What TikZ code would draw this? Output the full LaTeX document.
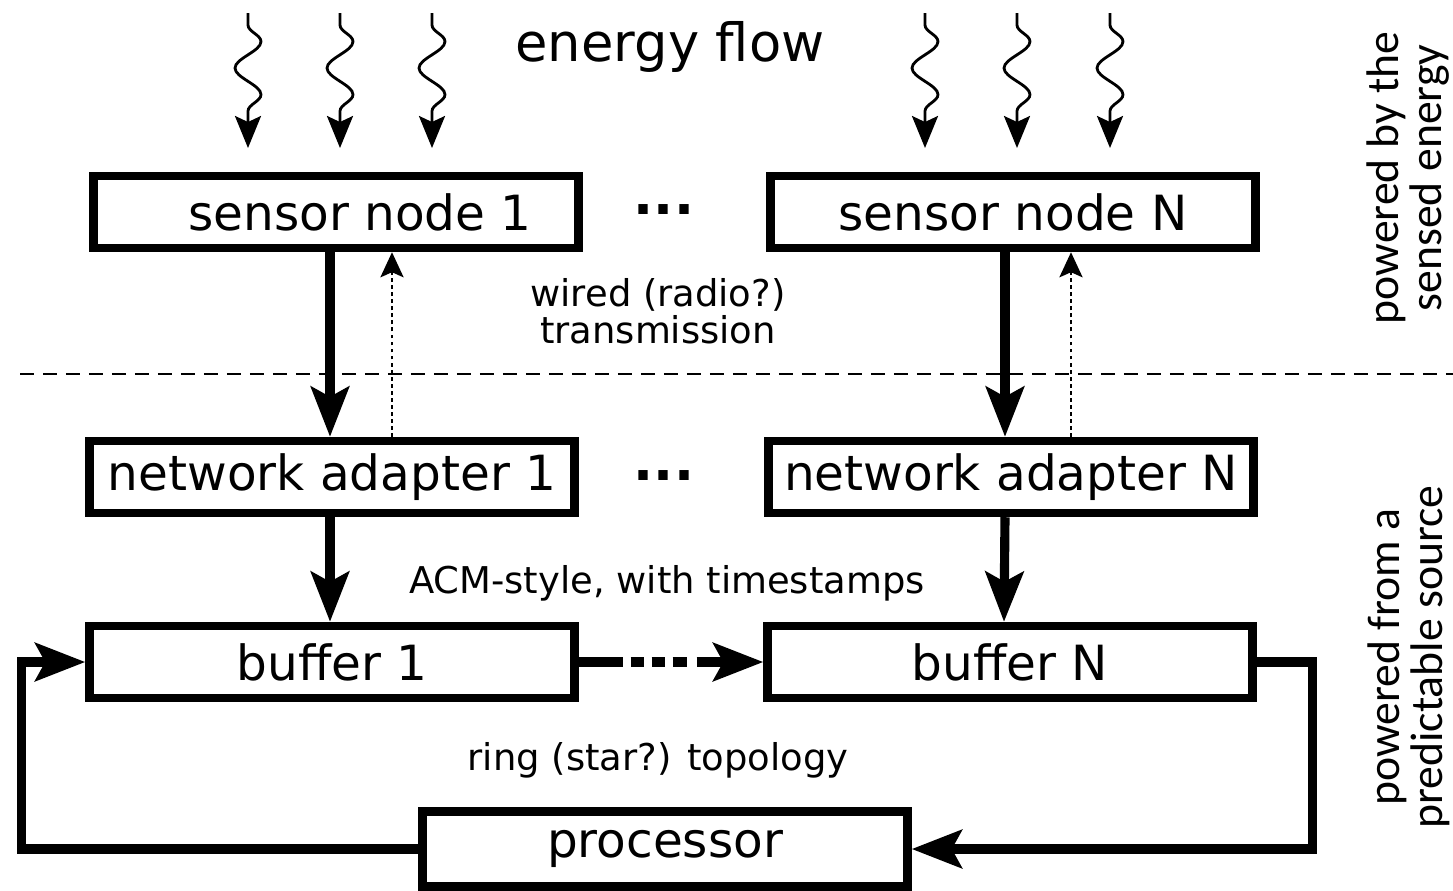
\documentclass[tikz,border=0pt]{standalone}
\usepackage{fontspec}
\setmainfont{DejaVu Sans}
\newfontfamily\sidefont{Carlito}
\usepackage{tikz}
\usetikzlibrary{arrows.meta,positioning,calc,decorations.pathmorphing}

\begin{document}
\begin{tikzpicture}[x=0.1mm,y=-0.1mm,
  unit/.style={draw,line width=2.4pt,minimum width=4.85cm,minimum height=0.72cm,inner sep=0pt,font=\fontsize{13.8}{16}\selectfont},
  flow/.style={line width=2.6pt,-{Stealth[length=5mm,width=3.8mm,inset=1mm]}},
  back/.style={line width=0.8pt,dash pattern=on 1.1pt off 0.9pt,-{Stealth[length=2.5mm,width=2.3mm,inset=0.5mm]}},
  wave/.style={line width=0.8pt,decorate,decoration={snake,amplitude=1.3mm,segment length=5.3mm,pre length=1.2mm,post length=3.5mm},-{Stealth[length=3.2mm,width=2.6mm,inset=0.6mm]}},
  note/.style={align=center,font=\fontsize{10.5}{10.5}\selectfont},
  side/.style={rotate=90,align=center,font=\sidefont\fontsize{13}{11}\selectfont},
  more/.style={font=\bfseries\fontsize{15}{17}\selectfont}]
\useasboundingbox (0,0) rectangle (1453,890);
\node[unit] (s1) at (336,212) {\hspace*{4.8mm}sensor node 1};
\node[unit] (sN) at (1013,212) {sensor node N};
\node[unit] (a1) at (332,477) {network adapter 1};
\node[unit] (aN) at (1011,477) {network adapter N};
\node[unit] (b1) at (332,662) {buffer 1};
\node[unit] (bN) at (1010,662) {buffer N};
\node[unit,minimum height=0.75cm] (proc) at (665,849) {processor};
\node[more] (d1) at (664,210) {...};
\node[more] (d2) at (664,476) {...};
\node[font=\fontsize{15}{17}\selectfont] (flowtext) at (670,47) {energy flow};
\node[note] (wire) at (658,311) {wired (radio?)\\transmission};
\node[note] (acm) at (667,583) {ACM-style, with timestamps};
\node[note] (ring) at (658,760) {ring (star?) topology};
\node[side] (upper) at (1408,178) {powered by the\\sensed energy};
\node[side] (lower) at (1409,657) {powered from a\\predictable source};
\draw[line width=0.7pt,dash pattern=on 1.4mm off 0.9mm] (20,374) -- (1453,374);
\foreach \x in {248,340,432,925,1017,1110}
  \draw[wave] (\x,13) -- (\x,148);
\draw[flow] ([xshift=-0.2mm]a1.north |- s1.south) -- ([xshift=-0.2mm]a1.north);
\draw[flow] ([xshift=-0.6mm]aN.north |- sN.south) -- ([xshift=-0.6mm]aN.north);
\draw[back] ([xshift=6mm]a1.north) -- ([xshift=6mm]a1.north |- s1.south);
\draw[back] ([xshift=6mm]aN.north) -- ([xshift=6mm]aN.north |- sN.south);
\draw[flow] ([xshift=-0.2mm]a1.south) -- ([xshift=-0.2mm]b1.north);
\draw[flow] ([xshift=-0.6mm]aN.south) -- ([xshift=-0.6mm]bN.north);
\draw[flow,dash pattern=on 4.4mm off 0.8mm on 1.3mm off 0.8mm on 1.3mm off 0.8mm on 1.4mm off 1mm on 10mm] (b1.east) -- (bN.east -| bN.west);
\draw[flow] (bN.east) -- ++(56,0) |- (proc.east);
\draw[flow] (proc.west) -- ++(-397,0) |- (b1.west);
\end{tikzpicture}
\end{document}
